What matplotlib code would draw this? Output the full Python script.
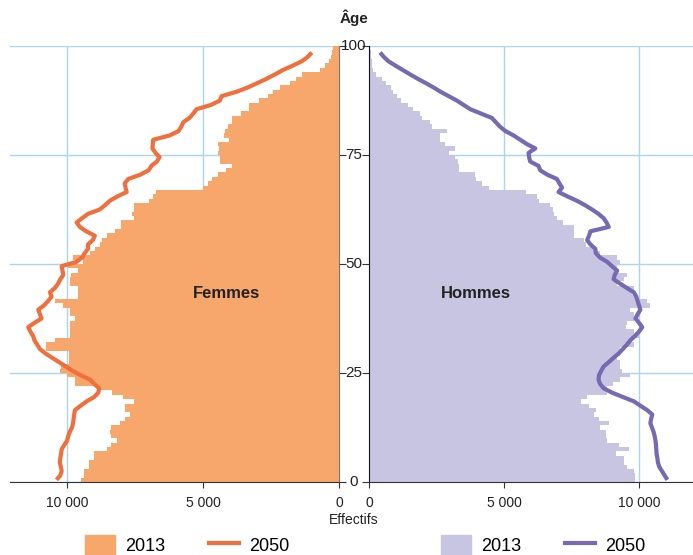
"""Pyramide des âges 2013 / 2050 : femmes à gauche, hommes à droite."""

import matplotlib

matplotlib.use("Agg")

import matplotlib.pyplot as plt
import numpy as np
from matplotlib.lines import Line2D
from matplotlib.patches import Patch

plt.rcParams["font.family"] = ["Liberation Sans", "DejaVu Sans"]

ages = np.arange(100)
ages_2050 = np.arange(99)

femmes_2013 = [
    9500, 9370, 9370, 9200, 9200, 9020, 9020, 8550, 8390, 8180,
    8390, 8430, 8400, 8060, 7880, 7670, 7880, 7880, 7540, 7950,
    8360, 8900, 9710, 9710, 10000, 10270, 10240, 9930, 9930, 9930,
    10780, 10780, 10450, 9900, 9900, 9900, 9900, 9700, 9900, 9900,
    10150, 10450, 9600, 9600, 9600, 9900, 9900, 9840, 9600, 9960,
    9400, 9780, 9160, 8980, 8800, 8700, 8530, 8220, 8020, 8020,
    7540, 7630, 7540, 7540, 6990, 6840, 6730, 5010, 4820, 4670,
    4450, 4150, 3940, 4380, 4380, 4450, 4400, 4440, 4050, 4220,
    4190, 4070, 3950, 3920, 3600, 3300, 3300, 2930, 2620, 2440,
    2170, 1800, 1580, 1350, 700, 500, 350, 280, 260, 230,
]
femmes_2050 = [
    10390, 10250, 10200, 10230, 10270, 10250, 10220, 10200, 10100, 10000,
    9960, 9900, 9820, 9780, 9760, 9740, 9710, 9500, 9280, 9000,
    8850, 8820, 9000, 9160, 9500, 9800, 10050, 10300, 10550, 10800,
    11000, 11100, 11200, 11250, 11350, 11430, 11200, 10940, 11000, 11060,
    10850, 10700, 10570, 10630, 10450, 10330, 10250, 10140, 10170, 10200,
    9650, 9450, 9350, 9230, 9230, 9050, 8980, 9300, 9530, 9650,
    9450, 9230, 8800, 8600, 8430, 8150, 7810, 7850, 7880, 7750,
    7300, 7000, 6900, 6700, 6600, 6750, 6860, 6850, 6830, 6220,
    5900, 5800, 5730, 5500, 5360, 5240, 4700, 4380, 4320, 3770,
    3350, 3000, 2660, 2350, 2060, 1700, 1370, 1150, 1000,
]
hommes_2013 = [
    9870, 9870, 9810, 9560, 9440, 9440, 9130, 9620, 9250, 8820,
    8760, 8760, 8570, 8880, 8510, 8330, 8390, 8140, 7860, 8080,
    8820, 8820, 9040, 9310, 9660, 9380, 9310, 9310, 9190, 9310,
    9310, 9810, 9680, 9990, 9810, 9500, 9560, 9810, 9810, 9680,
    10420, 10300, 9930, 9750, 9810, 9190, 9440, 9560, 9190, 9190,
    9310, 9190, 8570, 8400, 8020, 7950, 7600, 7580, 7580, 7190,
    6960, 6840, 6800, 6720, 6280, 6220, 5800, 4430, 4180, 3970,
    3930, 3340, 3340, 3310, 3170, 2970, 3190, 2820, 2640, 2640,
    2900, 2330, 2260, 1950, 1890, 1620, 1430, 1190, 1050, 900,
    820, 620, 490, 260, 140, 120, 120, 74, 60, 40,
]
hommes_2050 = [
    11050, 10950, 10850, 10750, 10700, 10680, 10650, 10640, 10630, 10610,
    10580, 10540, 10480, 10420, 10450, 10490, 10300, 10050, 9810, 9400,
    9000, 8690, 8560, 8500, 8520, 8600, 8690, 8880, 9060, 9250,
    9400, 9550, 9680, 9850, 10000, 10120, 10000, 9870, 9950, 10050,
    10000, 9950, 9900, 9810, 9550, 9300, 9060, 9100, 9190, 9000,
    8820, 8550, 8400, 8380, 8200, 8080, 8150, 8200, 8880, 8800,
    8690, 8500, 8260, 8000, 7700, 7350, 7020, 7150, 7050, 6960,
    6600, 6340, 6280, 5970, 5930, 5910, 6160, 5850, 5600, 5350,
    5050, 4850, 4700, 4550, 4150, 3750, 3500, 3250, 2950, 2650,
    2390, 2100, 1800, 1520, 1250, 980, 720, 550, 410,
]

x_ticks = [0, 5000, 10000]
x_ticklabels = ["0", "5 000", "10 000"]
y_ticks = [0, 25, 50, 75, 100]

ORANGE_BAR = "#f7a76c"
ORANGE_LINE = "#ef6f3d"
PURPLE_BAR = "#c8c5e2"
PURPLE_LINE = "#7769b2"
GRID = "#a9d5ef"
SPINE = "#333333"

W, H = 693, 555
fig = plt.figure(figsize=(W / 100, H / 100), dpi=100)
ax_f = fig.add_axes([10 / W, 73 / H, 329 / W, 436 / H])
ax_h = fig.add_axes([369 / W, 73 / H, 324 / W, 436 / H])


def style_axis(ax, side):
    ax.set_ylim(0, 100)
    ax.set_yticks(y_ticks)
    ax.set_xticks(x_ticks)
    ax.set_xticklabels(x_ticklabels, fontsize=10, color="#222222")
    ax.grid(True, color=GRID, linewidth=1)
    ax.set_axisbelow(True)
    ax.spines["top"].set_visible(False)
    ax.spines["bottom"].set_color(SPINE)
    ax.tick_params(axis="x", length=4, color=SPINE, pad=6)
    ax.tick_params(axis="y", length=5, color=SPINE, labelleft=False, labelright=False)
    if side == "left":
        ax.spines["left"].set_visible(False)
        ax.spines["right"].set_color("#777777")
        ax.yaxis.tick_right()
        ax.tick_params(axis="y", labelright=False)
    else:
        ax.spines["right"].set_visible(False)
        ax.spines["left"].set_color("#111111")


ax_f.barh(ages, femmes_2013, height=1, align="edge", color=ORANGE_BAR, linewidth=0)
ax_f.plot(femmes_2050, ages_2050 + 0.5, color=ORANGE_LINE, linewidth=3, solid_capstyle="butt")
ax_f.set_xlim(12100, 0)
style_axis(ax_f, "left")
ax_f.text(4150, 43.3, "Femmes", fontsize=12, fontweight="bold", ha="center", va="center",
          color="#222222")

ax_h.barh(ages, hommes_2013, height=1, align="edge", color=PURPLE_BAR, linewidth=0)
ax_h.plot(hommes_2050, ages_2050 + 0.5, color=PURPLE_LINE, linewidth=3, solid_capstyle="butt")
ax_h.set_xlim(0, 12000)
style_axis(ax_h, "right")
ax_h.text(3950, 43.3, "Hommes", fontsize=12, fontweight="bold", ha="center", va="center",
          color="#222222")

# age labels centred between the two panels
for a in y_ticks:
    fig.text(354 / W, (73 + 4.36 * a) / H, str(a), fontsize=11, ha="center", va="center",
             color="#222222")
fig.text(354 / W, (H - 18) / H, "Âge", fontsize=11, fontweight="bold", ha="center",
         va="center", color="#222222")
fig.text(354 / W, (H - 520) / H, "Effectifs", fontsize=10, ha="center", va="center",
         color="#222222")

leg_kw = dict(loc="center", ncol=2, frameon=False, fontsize=13, handlelength=1.7,
              handleheight=1.3, handletextpad=0.55, columnspacing=2.4)
fig.legend(handles=[Patch(color=ORANGE_BAR, label="2013"),
                    Line2D([], [], color=ORANGE_LINE, linewidth=3, label="2050")],
           bbox_to_anchor=(187 / W, 10 / H), **leg_kw)
fig.legend(handles=[Patch(color=PURPLE_BAR, label="2013"),
                    Line2D([], [], color=PURPLE_LINE, linewidth=3, label="2050")],
           bbox_to_anchor=(543 / W, 10 / H), **leg_kw)

fig.savefig("out.png", dpi=100)
